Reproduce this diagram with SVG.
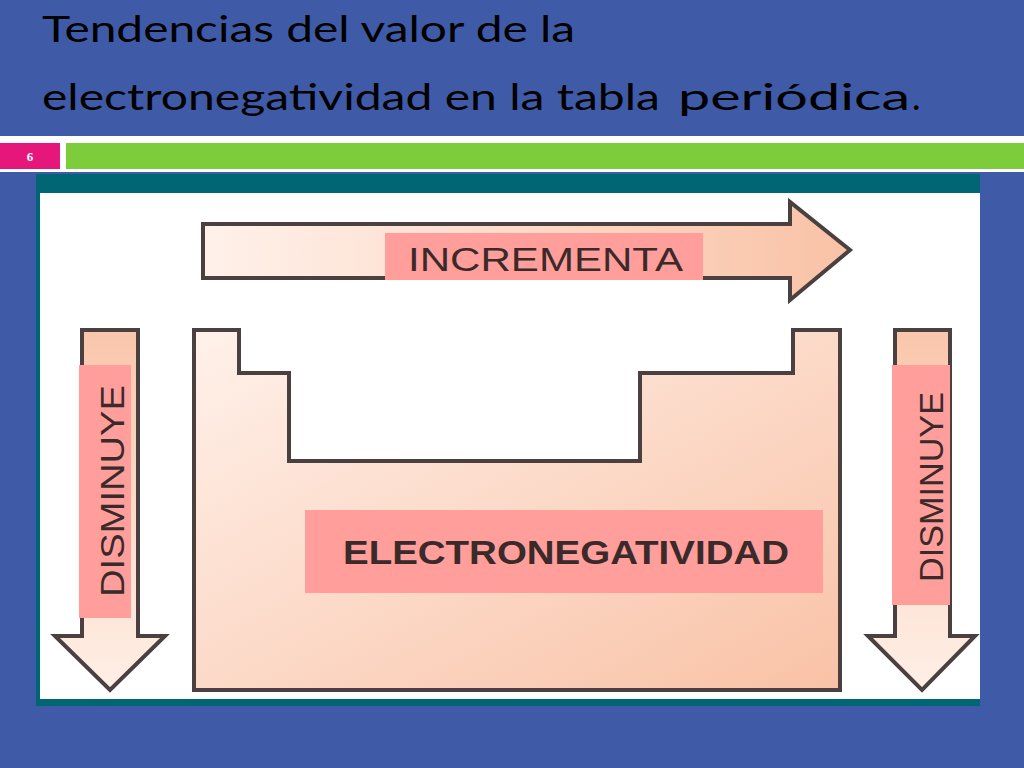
<svg xmlns="http://www.w3.org/2000/svg" width="1024" height="768" viewBox="0 0 1024 768">
<defs>
<linearGradient id="g1" x1="0" y1="0" x2="1" y2="1"><stop offset="0" stop-color="#FFF1EA"/><stop offset="1" stop-color="#F9C2A6"/></linearGradient>
<linearGradient id="gh" x1="0" y1="0" x2="1" y2="0"><stop offset="0" stop-color="#FFF1EA"/><stop offset="1" stop-color="#F9C2A6"/></linearGradient>
<linearGradient id="gv" x1="0" y1="0" x2="0" y2="1"><stop offset="0" stop-color="#F9C6AC"/><stop offset="1" stop-color="#FFEFE6"/></linearGradient>
</defs>
<style>
.sh{stroke:#4a4040;stroke-width:4;stroke-linejoin:miter}
.lab{fill:#FF9E9A}
.t{font-family:"Liberation Sans",Arial,sans-serif;font-size:34px;fill:#3a2a2a}
.ti{font-family:Lato,"Open Sans",sans-serif;font-size:36px;fill:#000}
</style>
<rect width="1024" height="768" fill="#3F5BA7"/>
<text class="ti" x="42" y="42" textLength="533" lengthAdjust="spacingAndGlyphs">Tendencias del valor de la</text>
<text class="ti" x="42" y="110" textLength="618" lengthAdjust="spacingAndGlyphs">electronegatividad en la tabla</text>
<text class="ti" x="678" y="110" font-size="42" textLength="232" lengthAdjust="spacingAndGlyphs">periódica</text>
<text class="ti" x="912" y="110" fill="#fff">.</text>
<rect x="0" y="136" width="1024" height="36" fill="#fff"/>
<rect x="0" y="143" width="60" height="26" fill="#E5177A"/>
<text x="30" y="161" text-anchor="middle" font-family="'Liberation Serif',serif" font-weight="bold" font-size="13" fill="#fff">6</text>
<rect x="66" y="143" width="958" height="26" fill="#7DCC3C"/>
<rect x="36" y="174" width="944" height="532" fill="#006673"/>
<rect x="40" y="193" width="940" height="506" fill="#fff"/>
<g id="increment">
<polygon class="sh" fill="url(#gh)" points="203,224 790,224 790,202 850,250 790,300 790,278 203,278"/>
<rect class="lab" x="385" y="233" width="318" height="47"/>
<text class="t" x="408" y="271" textLength="275" lengthAdjust="spacingAndGlyphs">INCREMENTA</text>
</g>
<g id="left">
<polygon class="sh" fill="url(#gv)" points="82,330 138,330 138,636 165,636 110,690 55,636 82,636"/>
<rect class="lab" x="79" y="365" width="52" height="253"/>
<text class="t" transform="translate(124,597) rotate(-90)" textLength="212" lengthAdjust="spacingAndGlyphs">DISMINUYE</text>
</g>
<g id="right">
<polygon class="sh" fill="url(#gv)" points="895,330 950,330 950,636 975,636 922,690 868,636 895,636"/>
<rect class="lab" x="892" y="365" width="58" height="240"/>
<text class="t" transform="translate(943,582) rotate(-90)" textLength="190" lengthAdjust="spacingAndGlyphs">DISMINUYE</text>
</g>
<g id="table">
<polygon class="sh" fill="url(#g1)" points="194,330 239,330 239,373 289,373 289,461 640,461 640,373 793,373 793,330 840,330 840,690 194,690"/>
<rect class="lab" x="305" y="510" width="518" height="83"/>
<text class="t" x="343" y="564" font-weight="bold" font-size="30" textLength="446" lengthAdjust="spacingAndGlyphs">ELECTRONEGATIVIDAD</text>
</g>
</svg>
